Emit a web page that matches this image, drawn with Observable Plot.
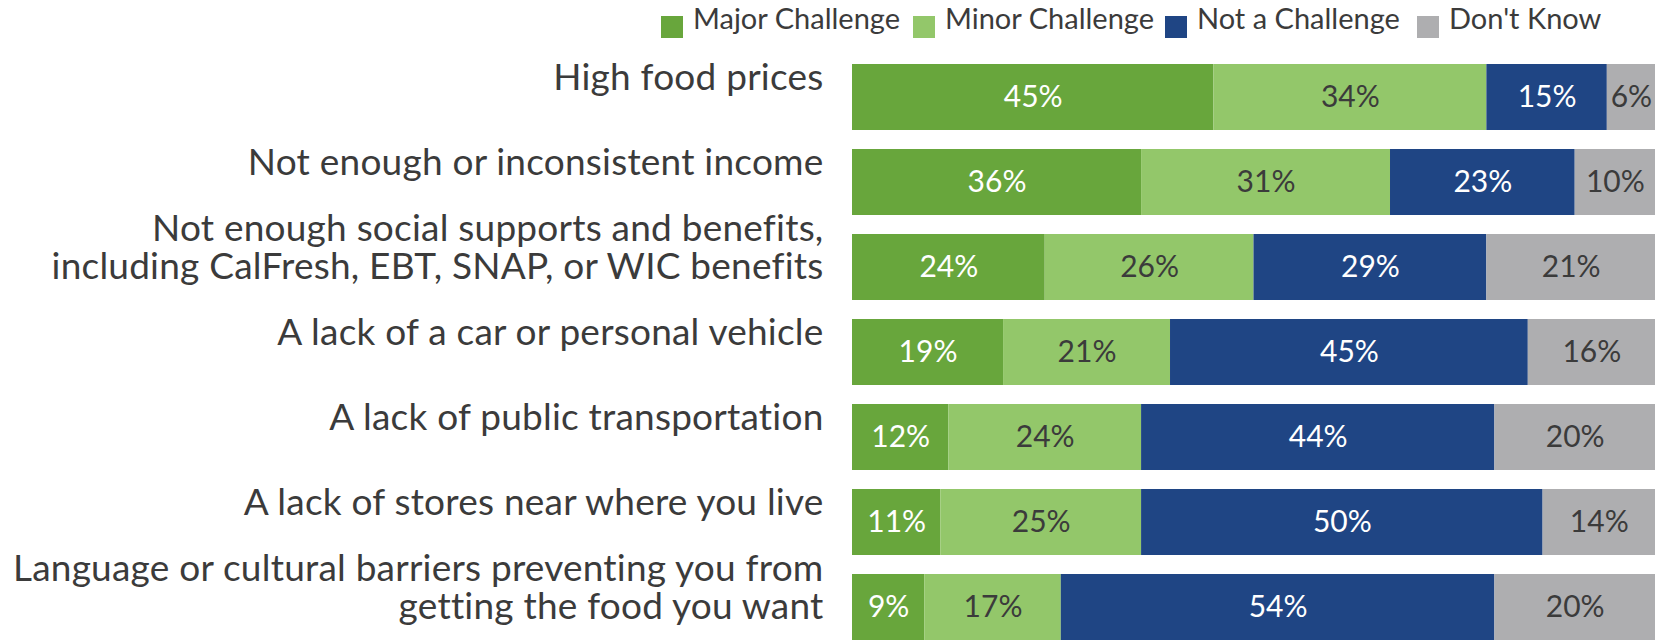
<!DOCTYPE html>
<html>
<head>
<meta charset="utf-8">
<script src="https://cdn.jsdelivr.net/npm/d3@7"></script>
<script src="https://cdn.jsdelivr.net/npm/@observablehq/plot@0.6"></script>
<style>
  html, body { margin: 0; padding: 0; background: #fff; }
  body { width: 1660px; height: 643px; overflow: hidden; font-family: Lato, sans-serif; color: #3b3b3b; }
  #legend { height: 48px; display: flex; align-items: flex-start; padding-left: 661px; box-sizing: border-box; }
  .item { display: flex; align-items: flex-start; flex: 0 0 252px; font-size: 29px; }
  .sw { width: 22px; height: 22px; margin-top: 16px; margin-right: 10px; }
  .lab { line-height: 29px; margin-top: 3px; white-space: nowrap; }
</style>
</head>
<body>
<div id="legend"></div>
<div id="chart"></div>
<script>
const categories = [
  "High food prices",
  "Not enough or inconsistent income",
  "Not enough social supports and benefits,\nincluding CalFresh, EBT, SNAP, or WIC benefits",
  "A lack of a car or personal vehicle",
  "A lack of public transportation",
  "A lack of stores near where you live",
  "Language or cultural barriers preventing you from\ngetting the food you want"
];
const seriesNames = ["Major Challenge", "Minor Challenge", "Not a Challenge", "Don't Know"];
const seriesColors = ["#68a63c", "#93c76a", "#1f4584", "#aeaeb0"];
const textColors = ["#ffffff", "#3b3b3b", "#ffffff", "#3b3b3b"];
const major = [45, 36, 24, 19, 12, 11, 9];
const minor = [34, 31, 26, 21, 24, 25, 17];
const notChallenge = [15, 23, 29, 45, 44, 50, 54];
const dontKnow = [6, 10, 21, 16, 20, 14, 20];

const seriesValues = [major, minor, notChallenge, dontKnow];
const data = [];
categories.forEach((c, i) => {
  seriesNames.forEach((s, j) => {
    data.push({category: c, series: s, value: seriesValues[j][i]});
  });
});

// legend
const legend = document.getElementById("legend");
seriesNames.forEach((s, j) => {
  const it = document.createElement("div");
  it.className = "item";
  it.innerHTML = `<div class="sw" style="background:${seriesColors[j]}"></div><span class="lab">${s}</span>`;
  legend.appendChild(it);
});

const stackOpts = {x: "value", y: "category", z: "series", order: seriesNames, offset: "normalize"};

const chart = Plot.plot({
  width: 1660,
  height: 595,
  marginLeft: 852,
  marginRight: 5,
  marginTop: 13,
  marginBottom: 0,
  style: {fontFamily: "Lato, sans-serif", background: "#fff"},
  x: {domain: [0, 1], axis: null},
  y: {domain: categories, axis: null, paddingInner: 0.225, paddingOuter: 0},
  color: {domain: seriesNames, range: seriesColors},
  marks: [
    Plot.barX(data, Plot.stackX({...stackOpts, fill: "series"})),
    Plot.text(data, Plot.stackX({
      ...stackOpts,
      text: d => d.value + "%",
      fill: d => textColors[seriesNames.indexOf(d.series)],
      fontSize: 30
    })),
    Plot.text(categories, {
      y: d => d,
      frameAnchor: "left",
      dx: -29,
      dy: -20,
      textAnchor: "end",
      lineHeight: 1.03,
      fontSize: 37,
      fill: "#3b3b3b"
    })
  ]
});
const textGroups = chart.querySelectorAll('g[aria-label="text"]');
if (textGroups.length) textGroups[textGroups.length - 1].setAttribute("letter-spacing", "0.22");
document.getElementById("chart").appendChild(chart);
</script>
</body>
</html>
